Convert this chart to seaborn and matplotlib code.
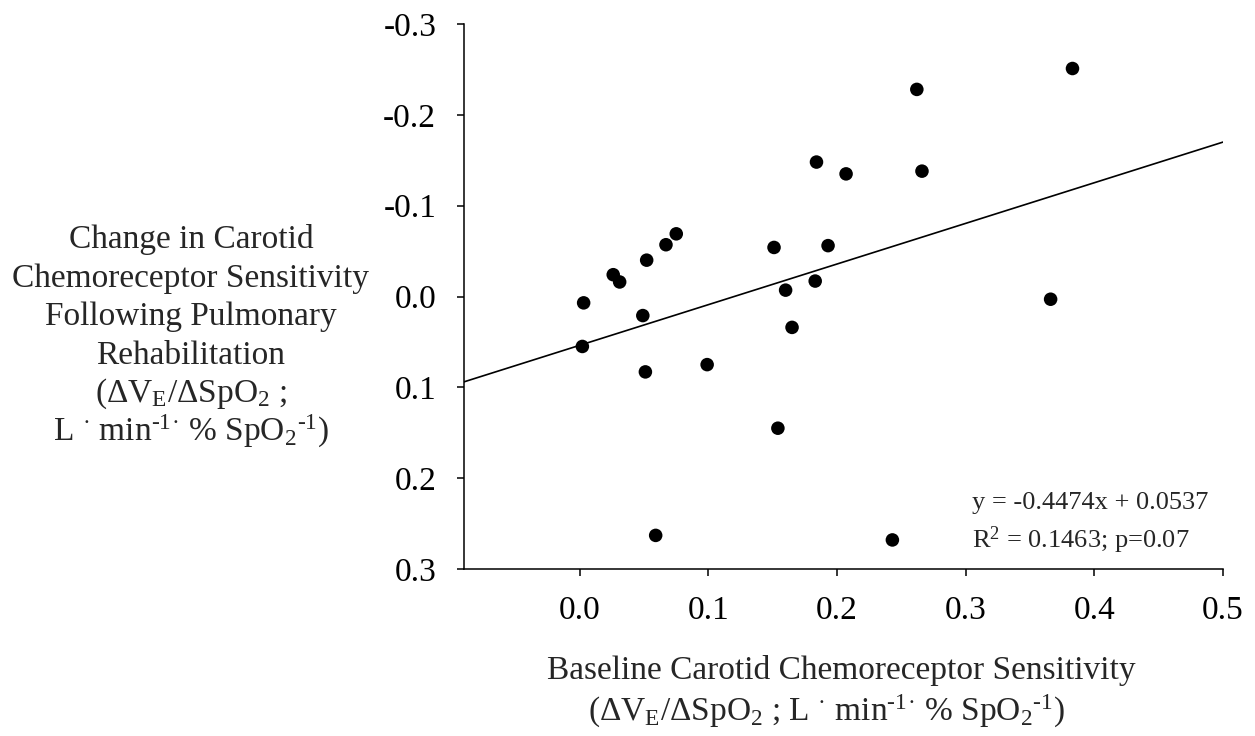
import numpy as np
import pandas as pd
import matplotlib
matplotlib.use("Agg")
import matplotlib.pyplot as plt
import seaborn as sns

# baseline sensitivity (x) and change after rehab (y)
baseline = [0.383, 0.262, 0.184, 0.266, 0.207, 0.075, 0.067, 0.151, 0.193,
            0.052, 0.026, 0.031, 0.003, 0.160, 0.183, 0.366, 0.049, 0.165,
            0.002, 0.051, 0.099, 0.154, 0.059, 0.243]
change = [-0.251, -0.228, -0.148, -0.138, -0.135, -0.069, -0.057, -0.054, -0.056,
          -0.040, -0.024, -0.016, 0.007, -0.007, -0.017, 0.003, 0.021, 0.034,
          0.055, 0.083, 0.075, 0.145, 0.263, 0.268]

slope = -0.4474
intercept = 0.0537
eq_text = "y = -0.4474x + 0.0537"
r2_text = r"R$^\mathregular{2}$ = 0.1463; p=0.07"

x_ticks = [0.0, 0.1, 0.2, 0.3, 0.4, 0.5]
y_ticks = [-0.3, -0.2, -0.1, 0.0, 0.1, 0.2, 0.3]

# hyphen (not minus) in the superscripts, as in the original
units = ("L $^\\mathregular{·}$ min$^\\mathregular{\u20101}$$^\\mathregular{·}$ % "
         "SpO$_\\mathregular{2}$$^\\mathregular{\u20101}$)")
ratio = r"(ΔV$_\mathregular{E}$/ΔSpO$_\mathregular{2}$ ;"

ylabel_lines = [
    "Change in Carotid",
    "Chemoreceptor Sensitivity",
    "Following Pulmonary",
    "Rehabilitation",
    ratio,
    units,
]
xlabel_lines = [
    "Baseline Carotid Chemoreceptor Sensitivity",
    ratio + " " + units,
]

df = pd.DataFrame({"baseline": baseline, "change": change})

sns.set_style("ticks")
plt.rcParams["font.family"] = ["Liberation Serif", "DejaVu Serif"]
plt.rcParams["mathtext.fontset"] = "custom"
plt.rcParams["mathtext.rm"] = "Liberation Serif"
plt.rcParams["mathtext.it"] = "Liberation Serif:italic"

W, H = 1255, 736
fig = plt.figure(figsize=(W / 100, H / 100), dpi=100)
ax = fig.add_axes([464 / W, 1 - 569 / H, (1223 - 464) / W, (569 - 24) / H])

sns.scatterplot(data=df, x="baseline", y="change", ax=ax, color="black",
                s=95, edgecolor="none", legend=False, zorder=3)
ax.axline((0, intercept), slope=slope, color="black", linewidth=1.2)

ax.set_xlim(-0.09, 0.5)
ax.set_ylim(0.3, -0.3)
ax.set_xticks(x_ticks)
ax.set_yticks(y_ticks)
ax.set_xticklabels([f"{t:.1f}" for t in x_ticks])
ax.set_yticklabels([f"{t:.1f}" for t in y_ticks])
ax.tick_params(axis="both", direction="out", length=5, width=1.1,
               labelsize=24, colors="black")
ax.tick_params(axis="x", pad=14)
ax.tick_params(axis="y", pad=15)
for side in ["top", "right"]:
    ax.spines[side].set_visible(False)
for side in ["left", "bottom"]:
    ax.spines[side].set_linewidth(1.1)
    ax.spines[side].set_color("black")
ax.set_xlabel("")
ax.set_ylabel("")

ax.text(0.305, 0.227, eq_text, fontsize=19, va="center", ha="left")
ax.text(0.305, 0.268, r2_text, fontsize=19, va="center", ha="left")

# y axis title, one line at a time
for i, line in enumerate(ylabel_lines):
    base = 248 + i * 38.5
    fig.text(191 / W, 1 - base / H, line, fontsize=24, ha="center", va="baseline")

fig.text(841 / W, 1 - 679 / H, xlabel_lines[0], fontsize=24, ha="center", va="baseline")
fig.text(588 / W, 1 - 721 / H, xlabel_lines[1], fontsize=24, ha="left", va="baseline")

fig.savefig("out.png", dpi=100)
